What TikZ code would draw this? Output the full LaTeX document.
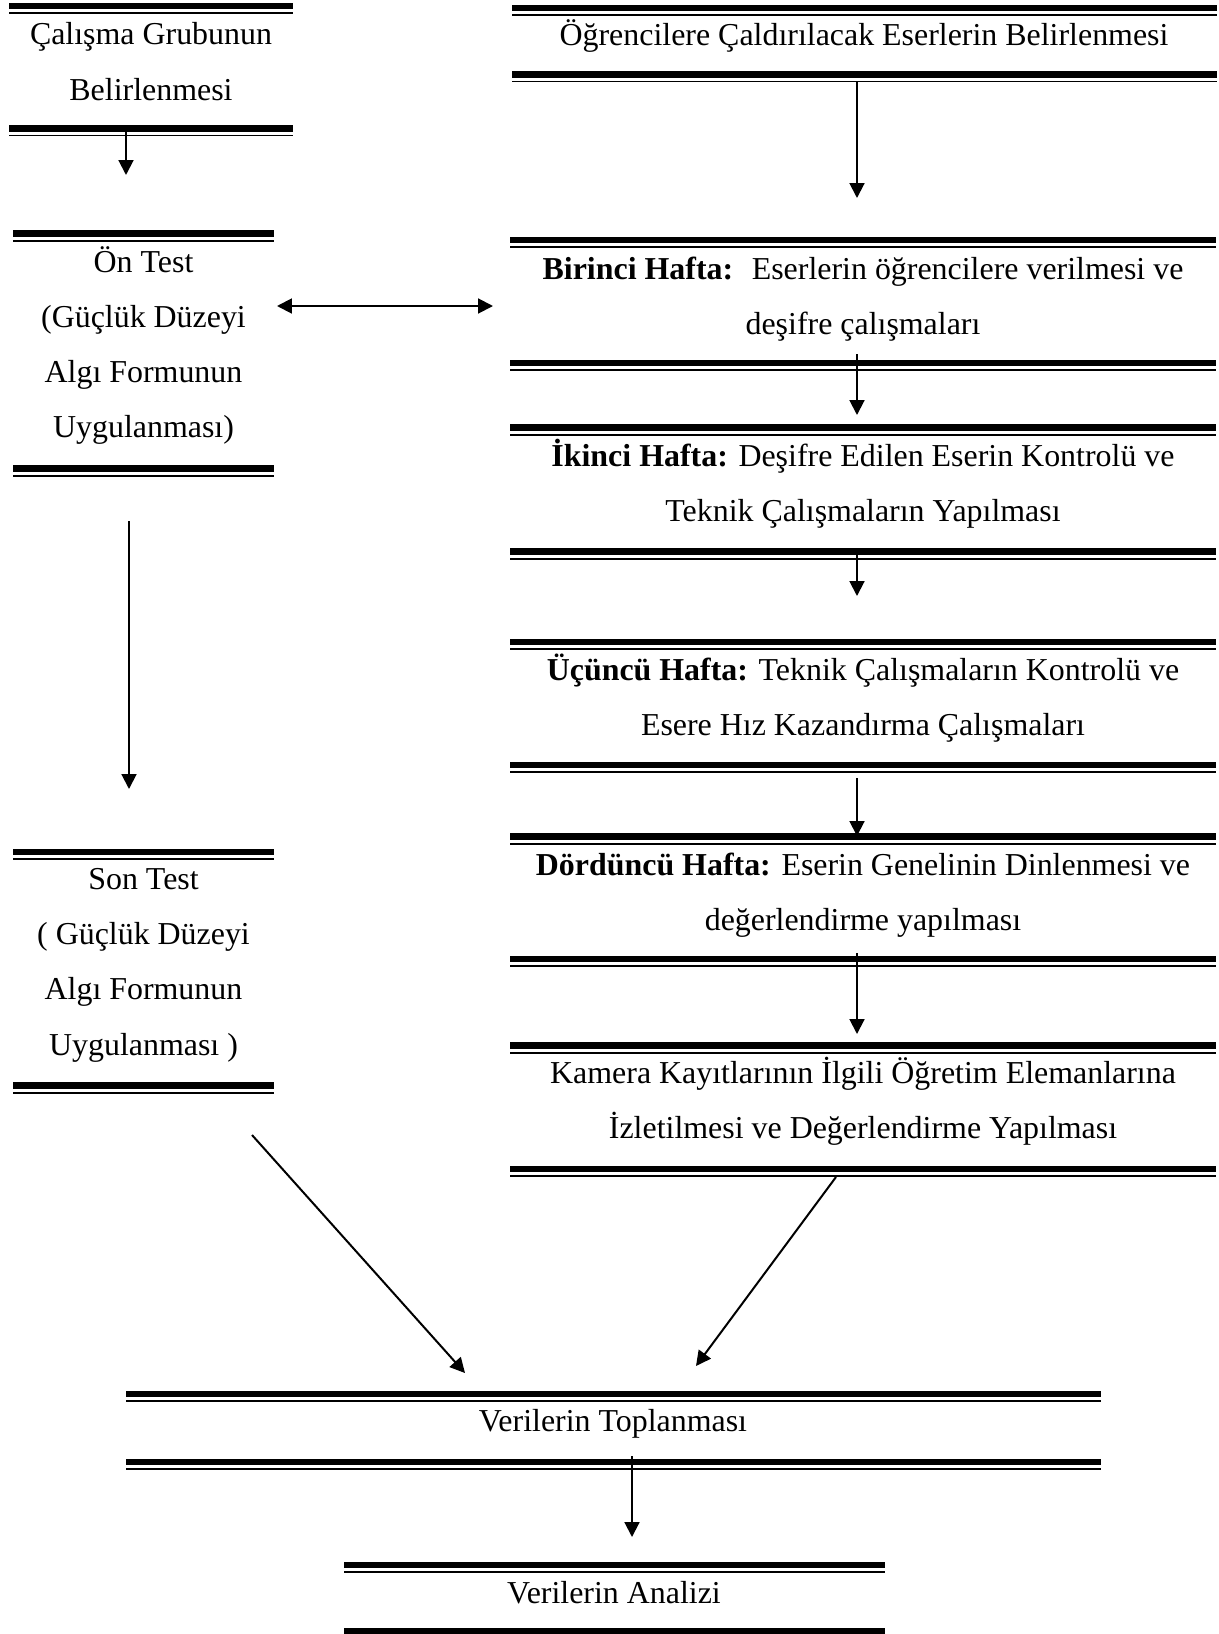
\documentclass[tikz,border=0pt]{standalone}
\usepackage{fontspec}
\setmainfont{Liberation Serif}
\usetikzlibrary{arrows.meta}
\tikzset{>={Triangle[length=5.6pt,width=5.6pt]}}
\tikzset{
  thickrule/.style={line width=2.6pt},
  thinrule/.style={line width=0.75pt},
  boxtext/.style={align=center, inner sep=0pt, font=\fontsize{12}{20.8}\selectfont},
  flow/.style={->, line width=0.75pt}
}
% thick rule with a thin one under it
\newcommand{\twinrule}[3]{%
  \draw[thickrule] (#1,#3) -- (#2,#3);
  \draw[thinrule] (#1,#3+7) -- (#2,#3+7);
}

\begin{document}
\begin{tikzpicture}[x=0.376pt, y=-0.376pt]

\clip (0,0) rectangle (1219,1634);

% left column
\node[boxtext] (grup) at (151,61.5) {Çalışma Grubunun\\Belirlenmesi};
\twinrule{9}{293}{6}
\twinrule{9}{293}{128.5}

\node[boxtext] (ontest) at (143.5,345.5) {Ön Test\\(Güçlük Düzeyi\\Algı Formunun\\Uygulanması)};
\twinrule{13}{274}{233.5}
\twinrule{13}{274}{468.5}

\node[boxtext] (sontest) at (143.5,965) {Son Test\\( Güçlük Düzeyi\\Algı Formunun\\Uygulanması )};
\twinrule{13}{274}{852}
\twinrule{13}{274}{1085.5}

% right column
\node[boxtext] (eser) at (864,36) {Öğrencilere Çaldırılacak Eserlerin Belirlenmesi};
\twinrule{512}{1217}{8}
\twinrule{512}{1217}{74.5}

\node[boxtext] (hafta1) at (863,299) {\textbf{Birinci Hafta:}~ Eserlerin öğrencilere verilmesi ve\\deşifre çalışmaları};
\twinrule{510}{1216}{240}
\twinrule{510}{1216}{363}

\node[boxtext] (hafta2) at (863,483.5) {\textbf{İkinci Hafta:} Deşifre Edilen Eserin Kontrolü ve\\Teknik Çalışmaların Yapılması};
\twinrule{510}{1216}{427.5}
\twinrule{510}{1216}{551.5}

\node[boxtext] (hafta3) at (863,698) {\textbf{Üçüncü Hafta:} Teknik Çalışmaların Kontrolü ve\\Esere Hız Kazandırma Çalışmaları};
\twinrule{510}{1216}{642}
\twinrule{510}{1216}{765}

\node[boxtext] (hafta4) at (863,895) {\textbf{Dördüncü Hafta:} Eserin Genelinin Dinlenmesi ve\\değerlendirme yapılması};
\twinrule{510}{1216}{836.5}
\twinrule{510}{1216}{959}

\node[boxtext] (kamera) at (863,1101.5) {Kamera Kayıtlarının İlgili Öğretim Elemanlarına\\İzletilmesi ve Değerlendirme Yapılması};
\twinrule{510}{1216}{1045.5}
\twinrule{510}{1216}{1169}

% bottom
\node[boxtext] (toplama) at (613,1424) {Verilerin Toplanması};
\twinrule{126}{1101}{1394}
\twinrule{126}{1101}{1462}

\node[boxtext] (analiz) at (614,1593) {Verilerin Analizi};
\twinrule{344}{885}{1565}
\twinrule{344}{885}{1631.5}

% arrow ends
\coordinate (grupA) at (126,132);   \coordinate (grupB) at (126,175);
\coordinate (onA) at (129,521);     \coordinate (onB) at (129,789);
\coordinate (ciftA) at (277,306);   \coordinate (ciftB) at (493,306);
\coordinate (r1) at (857,82);       \coordinate (r2) at (857,198);
\coordinate (r3) at (857,354);      \coordinate (r4) at (857,415);
\coordinate (r5) at (857,555);      \coordinate (r6) at (857,596);
\coordinate (r7) at (857,778);      \coordinate (r8) at (857,836);
\coordinate (r9) at (857,953);      \coordinate (r10) at (857,1034);
\coordinate (kamA) at (836,1177);   \coordinate (kamB) at (696,1366);
\coordinate (sonA) at (252,1135);   \coordinate (sonB) at (465,1373);
\coordinate (topA) at (632,1456);   \coordinate (topB) at (632,1537);

\draw[flow] (grupA) -- (grupB);
\draw[flow] (onA) -- (onB);
\draw[flow, <->] (ciftA) -- (ciftB);
\draw[flow] (r1) -- (r2);
\draw[flow] (r3) -- (r4);
\draw[flow] (r5) -- (r6);
\draw[flow] (r7) -- (r8);
\draw[flow] (r9) -- (r10);
\draw[flow] (kamA) -- (kamB);
\draw[flow] (sonA) -- (sonB);
\draw[flow] (topA) -- (topB);

\end{tikzpicture}
\end{document}
